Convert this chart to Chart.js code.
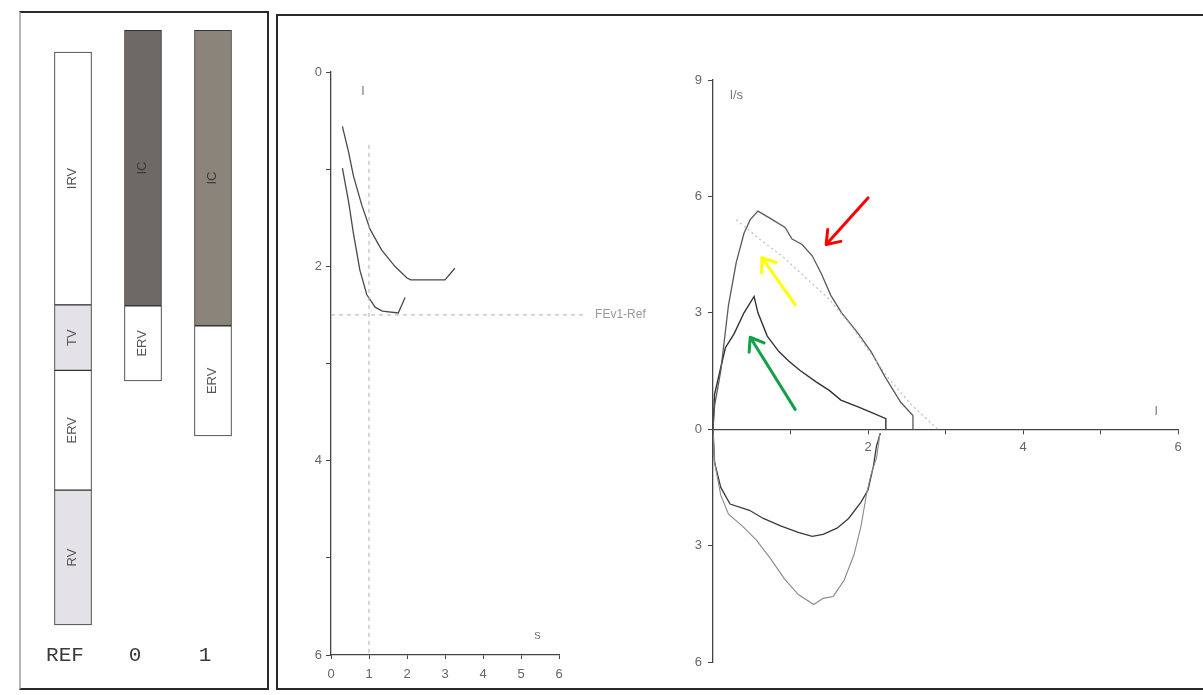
<!DOCTYPE html>
<html>
<head>
<meta charset="utf-8">
<script src="https://cdn.jsdelivr.net/npm/chart.js@4.4.0/dist/chart.umd.min.js"></script>
<style>
html, body { margin: 0; padding: 0; background: #fff; }
body { width: 1203px; height: 695px; position: relative; overflow: hidden; font-family: "Liberation Sans", Arial, sans-serif; }
.panel { position: absolute; border: 2px solid #2a2a2a; box-sizing: border-box; }
#p1 { left: 19px; top: 11px; width: 250px; height: 679px; border-left-color: #b5b5b5; }
#p2 { left: 276px; top: 14px; width: 960px; height: 676px; border-right: none; }
canvas { position: absolute; top: 0; }
#barCanvas { left: 38px; }
#vtCanvas { left: 280px; }
#fvCanvas { left: 680px; }
</style>
</head>
<body>
<div class="panel" id="p1"></div>
<div class="panel" id="p2"></div>
<canvas id="barCanvas" width="210" height="695"></canvas>
<canvas id="vtCanvas" width="400" height="695"></canvas>
<canvas id="fvCanvas" width="523" height="695"></canvas>
<script>
// 左パネル：肺気量分画 (l)
const barCategories = ['REF', '0', '1'];
const rvRange = [[0, 1.42], null, null];
const ervRange = [[1.42, 2.68], [2.57, 3.36], [1.99, 3.15]];
const tvRange = [[2.68, 3.37], null, null];
const irvRange = [[3.37, 6.03], null, null];
const icRange = [null, [3.36, 6.26], [3.15, 6.26]];

// 中央：容量-時間曲線 (s, l)
const vtTimeA = [0.30, 0.46, 0.59, 0.81, 1.03, 1.33, 1.68, 2.0, 2.1, 3.0, 3.26];
const vtVolA = [0.56, 0.82, 1.07, 1.37, 1.62, 1.83, 2.0, 2.12, 2.14, 2.14, 2.02];
const vtTimeB = [0.30, 0.46, 0.59, 0.76, 0.94, 1.16, 1.35, 1.77, 1.95];
const vtVolB = [0.99, 1.33, 1.66, 2.04, 2.29, 2.42, 2.46, 2.48, 2.32];
const fev1Time = 1.0;
const fev1RefVolume = 2.5;
const vtTicks = [0, 1, 2, 3, 4, 5, 6];

// 右：フロー-ボリューム曲線 (l, l/s)
const expVolA = [0, 0.02, 0.09, 0.16, 0.27, 0.40, 0.53, 0.58, 0.70, 0.85, 0.98, 1.12, 1.33, 1.50, 1.65, 1.88, 2.08, 2.23, 2.23];
const expFlowA = [0, 0.9, 1.5, 2.1, 2.45, 3.0, 3.42, 3.0, 2.4, 2.0, 1.75, 1.52, 1.22, 1.0, 0.75, 0.57, 0.4, 0.27, 0];
const expVolB = [0, 0.02, 0.10, 0.20, 0.30, 0.40, 0.48, 0.58, 0.75, 0.93, 1.02, 1.15, 1.28, 1.40, 1.52, 1.66, 1.86, 2.04, 2.22, 2.42, 2.58, 2.58];
const expFlowB = [0, 0.6, 1.5, 3.2, 4.3, 5.05, 5.4, 5.62, 5.42, 5.2, 4.9, 4.76, 4.47, 4.0, 3.45, 3.0, 2.5, 2.0, 1.35, 0.7, 0.35, 0];
const predVol = [0.30, 0.60, 0.90, 1.20, 1.50, 1.75, 2.00, 2.27, 2.55, 2.90];
const predFlow = [5.40, 4.90, 4.45, 3.90, 3.35, 2.75, 2.05, 1.30, 0.65, 0];
const inspVolA = [0, 0.02, 0.10, 0.22, 0.47, 0.65, 0.88, 1.10, 1.28, 1.42, 1.60, 1.75, 1.91, 2.00, 2.07, 2.11, 2.16];
const inspFlowA = [0, -0.85, -1.5, -1.93, -2.09, -2.3, -2.5, -2.66, -2.76, -2.71, -2.55, -2.3, -1.88, -1.57, -0.95, -0.43, -0.1];
const inspVolB = [0, 0.02, 0.10, 0.20, 0.38, 0.56, 0.74, 0.92, 1.10, 1.30, 1.42, 1.55, 1.69, 1.82, 1.91, 1.98, 2.04, 2.11, 2.14, 2.15];
const inspFlowB = [0, -0.85, -1.7, -2.19, -2.5, -2.86, -3.33, -3.85, -4.26, -4.52, -4.36, -4.31, -3.9, -3.23, -2.5, -1.68, -1.16, -0.74, -0.33, -0.1];
const fvYTicks = [-6, -3, 0, 3, 6, 9];
// 注釈の矢印 [尾x, 尾y, 先x, 先y]
const arrowRed = [2.0, 5.96, 1.46, 4.76];
const arrowYellow = [1.06, 3.21, 0.63, 4.42];
const arrowGreen = [1.06, 0.51, 0.48, 2.37];

const toPoints = (xs, ys) => xs.map((x, i) => ({ x: x, y: ys[i] }));
const FONT = '"Liberation Sans", Arial, sans-serif';

// 棒グラフの文字
const barTextPlugin = {
    id: 'barText',
    afterDatasetsDraw(chart) {
        const ctx = chart.ctx;
        chart.data.datasets.forEach((ds, di) => {
            chart.getDatasetMeta(di).data.forEach((bar, i) => {
                if (!ds.data[i]) return;
                const cy = (bar.y + bar.base) / 2;
                ctx.save();
                ctx.translate(bar.x - 1, cy);
                ctx.rotate(-Math.PI / 2);
                ctx.font = '13px ' + FONT;
                ctx.fillStyle = ds.label === 'IC' ? '#3c3836' : '#555';
                ctx.textAlign = 'center';
                ctx.textBaseline = 'middle';
                ctx.fillText(ds.label, 0, 0);
                ctx.restore();
            });
        });
        const xs = chart.scales.x;
        ctx.save();
        ctx.font = '21px "Liberation Mono", "DejaVu Sans Mono", monospace';
        ctx.fillStyle = '#3a3a3a';
        ctx.textAlign = 'center';
        ctx.textBaseline = 'middle';
        barCategories.forEach((c, i) => ctx.fillText(c, xs.getPixelForValue(i) - 8, 655));
        ctx.restore();
    }
};

function initBarChart() {
    const datasets = [
        { label: 'RV', data: rvRange, backgroundColor: '#e4e2e6' },
        { label: 'ERV', data: ervRange, backgroundColor: '#ffffff' },
        { label: 'TV', data: tvRange, backgroundColor: '#e4e2e6' },
        { label: 'IRV', data: irvRange, backgroundColor: '#ffffff' },
        { label: 'IC', data: icRange, backgroundColor: ['#ffffff', '#6e6965', '#8b847b'] }
    ].map(d => Object.assign(d, {
        borderColor: '#333', borderWidth: 1, borderSkipped: false, barThickness: 37, grouped: false
    }));
    new Chart(document.getElementById('barCanvas'), {
        type: 'bar',
        data: { labels: barCategories, datasets: datasets },
        options: {
            responsive: false,
            animation: false,
            layout: { padding: 0 },
            plugins: { legend: { display: false }, tooltip: { enabled: false } },
            scales: {
                x: { display: false },
                y: { display: false, min: -0.737, max: 6.579 }
            }
        },
        plugins: [barTextPlugin]
    });
}

// 容量-時間の文字
const vtTextPlugin = {
    id: 'vtText',
    afterDraw(chart) {
        const ctx = chart.ctx, x = chart.scales.x, y = chart.scales.y;
        ctx.save();
        ctx.font = '12px ' + FONT;
        ctx.fillStyle = '#999';
        ctx.textBaseline = 'middle';
        ctx.fillText('FEv1-Ref', x.getPixelForValue(6.95), y.getPixelForValue(fev1RefVolume));
        ctx.fillStyle = '#777';
        ctx.font = '13px ' + FONT;
        ctx.fillText('l', x.getPixelForValue(0.8), y.getPixelForValue(0.2));
        ctx.fillText('s', x.getPixelForValue(5.35), y.getPixelForValue(5.8));
        ctx.restore();
    }
};

function initVolumeTimeChart() {
    const curve = { showLine: true, pointRadius: 0, borderColor: '#4a4a4a', borderWidth: 1.3, fill: false, tension: 0 };
    const guide = { showLine: true, pointRadius: 0, borderColor: '#b0b0b0', borderWidth: 1, borderDash: [4, 4], fill: false, clip: false };
    new Chart(document.getElementById('vtCanvas'), {
        type: 'scatter',
        data: {
            datasets: [
                Object.assign({ data: toPoints([0, 6.65], [fev1RefVolume, fev1RefVolume]) }, guide),
                Object.assign({ data: toPoints([fev1Time, fev1Time], [0.75, 6]) }, guide),
                Object.assign({ data: toPoints(vtTimeA, vtVolA) }, curve),
                Object.assign({ data: toPoints(vtTimeB, vtVolB) }, curve)
            ]
        },
        options: {
            responsive: false,
            animation: false,
            layout: { padding: { left: 0, right: 121, top: 72, bottom: 10 } },
            plugins: { legend: { display: false }, tooltip: { enabled: false } },
            scales: {
                x: {
                    type: 'linear', min: 0, max: 6,
                    afterBuildTicks: s => { s.ticks = vtTicks.map(v => ({ value: v })); },
                    afterFit: s => { s.height = 30; },
                    ticks: { color: '#666', font: { size: 13, family: FONT }, padding: 8 },
                    grid: { drawOnChartArea: false, tickLength: 4, color: '#444' },
                    border: { color: '#444', width: 1.3 }
                },
                y: {
                    type: 'linear', min: 0, max: 6, reverse: true,
                    afterBuildTicks: s => { s.ticks = vtTicks.map(v => ({ value: v })); },
                    afterFit: s => { s.width = 51; },
                    ticks: { color: '#666', font: { size: 13, family: FONT }, padding: 4,
                        callback: v => (v % 2 === 0 ? v : '') },
                    grid: { drawOnChartArea: false, tickLength: 5, color: '#444' },
                    border: { color: '#444', width: 1.3 }
                }
            }
        },
        plugins: [vtTextPlugin]
    });
}

// フロー-ボリュームの文字と矢印
const fvTextPlugin = {
    id: 'fvText',
    afterDraw(chart) {
        const ctx = chart.ctx, x = chart.scales.x, y = chart.scales.y;
        ctx.save();
        ctx.font = '13px ' + FONT;
        ctx.fillStyle = '#777';
        ctx.textBaseline = 'middle';
        ctx.fillText('l/s', x.getPixelForValue(0.22), y.getPixelForValue(8.6));
        ctx.fillText('l', x.getPixelForValue(5.7), y.getPixelForValue(0.45));
        const arrows = [[arrowRed, '#ff0000'], [arrowYellow, '#ffff00'], [arrowGreen, '#12a048']];
        arrows.forEach(([a, color]) => {
            const x1 = x.getPixelForValue(a[0]), y1 = y.getPixelForValue(a[1]);
            const x2 = x.getPixelForValue(a[2]), y2 = y.getPixelForValue(a[3]);
            const ang = Math.atan2(y2 - y1, x2 - x1);
            ctx.strokeStyle = color;
            ctx.lineWidth = 3;
            ctx.lineCap = 'round';
            ctx.beginPath();
            ctx.moveTo(x1, y1);
            ctx.lineTo(x2, y2);
            [Math.PI * 0.8, -Math.PI * 0.8].forEach(d => {
                ctx.moveTo(x2, y2);
                ctx.lineTo(x2 + 15 * Math.cos(ang + d), y2 + 15 * Math.sin(ang + d));
            });
            ctx.stroke();
        });
        ctx.restore();
    }
};

function initFlowVolumeChart() {
    const line = (xs, ys, color, width, dash) => ({
        data: toPoints(xs, ys), showLine: true, pointRadius: 0, borderColor: color,
        borderWidth: width, borderDash: dash || [], fill: false, tension: 0
    });
    new Chart(document.getElementById('fvCanvas'), {
        type: 'scatter',
        data: {
            datasets: [
                line(predVol, predFlow, '#bdbdbd', 1.2, [2, 3]),
                line(inspVolB, inspFlowB, '#8a8a8a', 1.1),
                line(inspVolA, inspFlowA, '#3a3a3a', 1.3),
                line(expVolB, expFlowB, '#5a5a5a', 1.3),
                line(expVolA, expFlowA, '#333333', 1.4)
            ]
        },
        options: {
            responsive: false,
            animation: false,
            layout: { padding: { left: 0, right: 25, top: 80, bottom: 33 } },
            plugins: { legend: { display: false }, tooltip: { enabled: false } },
            scales: {
                x: {
                    type: 'linear', min: 0, max: 6, position: { y: 0 },
                    afterBuildTicks: s => { s.ticks = vtTicks.map(v => ({ value: v })); },
                    ticks: { color: '#666', font: { size: 13, family: FONT }, padding: 6,
                        callback: v => (v > 0 && v % 2 === 0 ? v : '') },
                    grid: { drawOnChartArea: false, tickLength: 4, color: '#444' },
                    border: { color: '#444', width: 1.3 }
                },
                y: {
                    type: 'linear', min: -6, max: 9,
                    afterBuildTicks: s => { s.ticks = fvYTicks.map(v => ({ value: v })); },
                    afterFit: s => { s.width = 33; },
                    ticks: { color: '#666', font: { size: 13, family: FONT }, padding: 6,
                        callback: v => Math.abs(v) },
                    grid: { drawOnChartArea: false, tickLength: 5, color: '#444' },
                    border: { color: '#444', width: 1.3 }
                }
            }
        },
        plugins: [fvTextPlugin]
    });
}

document.addEventListener('DOMContentLoaded', () => {
    initBarChart();
    initVolumeTimeChart();
    initFlowVolumeChart();
});
</script>
</body>
</html>
